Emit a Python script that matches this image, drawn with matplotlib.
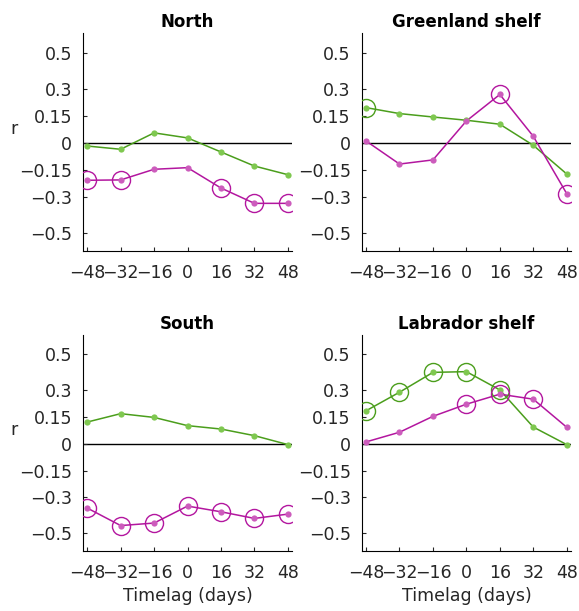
import matplotlib.pyplot as plt

lags = [-48, -32, -16, 0, 16, 32, 48]
titles = ["North", "Greenland shelf", "South", "Labrador shelf"]

green_vals = [
    [-0.017, -0.035, 0.056, 0.028, -0.05, -0.128, -0.176],
    [0.196, 0.163, 0.144, 0.126, 0.104, -0.013, -0.172],
    [0.122, 0.169, 0.148, 0.102, 0.083, 0.046, -0.004],
    [0.185, 0.289, 0.40, 0.404, 0.302, 0.094, -0.004],
]
magenta_vals = [
    [-0.207, -0.205, -0.146, -0.137, -0.25, -0.335, -0.335],
    [0.011, -0.117, -0.094, 0.122, 0.269, 0.037, -0.281],
    [-0.359, -0.457, -0.443, -0.348, -0.380, -0.417, -0.393],
    [0.011, 0.065, 0.154, 0.222, 0.278, 0.25, 0.093],
]
# which lags are circled (significant)
green_sig = [
    [],
    [-48],
    [],
    [-48, -32, -16, 0, 16],
]
magenta_sig = [
    [-48, -32, 16, 32, 48],
    [16, 48],
    [-48, -32, -16, 0, 16, 32, 48],
    [0, 16, 32],
]

yticks = [-0.5, -0.3, -0.15, 0, 0.15, 0.3, 0.5]
ytick_labels = ["\u22120.5", "\u22120.3", "\u22120.15", "0", "0.15", "0.3", "0.5"]
xtick_labels = ["\u221248", "\u221232", "\u221216", "0", "16", "32", "48"]

green_line = "#4b9e1c"
green_dot = "#7fc850"
mag_line = "#b3169f"
mag_dot = "#cc5cbc"

fig = plt.figure(figsize=(5.79, 6.11), dpi=100)
positions = [
    [0.1434, 0.589, 0.361, 0.357],
    [0.625, 0.589, 0.361, 0.357],
    [0.1434, 0.098, 0.361, 0.354],
    [0.625, 0.098, 0.361, 0.354],
]

for i in range(4):
    ax = fig.add_axes(positions[i])
    ax.axhline(0, color="black", lw=1.0, zorder=1)
    for vals, sig, lc, dc in [(green_vals[i], green_sig[i], green_line, green_dot),
                              (magenta_vals[i], magenta_sig[i], mag_line, mag_dot)]:
        ax.plot(lags, vals, color=lc, lw=1.1, zorder=2)
        ax.plot(lags, vals, "o", color=dc, ms=4.5, mec="none", zorder=3)
        sx = [x for x in lags if x in sig]
        sy = [v for x, v in zip(lags, vals) if x in sig]
        ax.plot(sx, sy, "o", mfc="none", mec=lc, ms=13, mew=1.0, zorder=4)
    ax.set_xlim(-50, 50)
    ax.set_ylim(-0.6, 0.61)
    ax.set_xticks(lags)
    ax.set_xticklabels(xtick_labels)
    ax.set_yticks(yticks)
    ax.set_yticklabels(ytick_labels)
    ax.spines["top"].set_visible(False)
    ax.spines["right"].set_visible(False)
    ax.tick_params(direction="in", length=3, labelsize=12.5, colors="#262626",
                   labelcolor="#262626")
    ax.tick_params(axis="x", pad=9)
    ax.tick_params(axis="y", pad=8)
    ax.set_title(titles[i], fontsize=12, fontweight="bold", pad=4)
    if i in (0, 2):
        ax.set_ylabel("r", fontsize=12.5, rotation=0, color="#262626")
        ax.yaxis.set_label_coords(-0.33, 0.52)
    if i in (2, 3):
        ax.set_xlabel("Timelag (days)", fontsize=12.5, color="#262626", labelpad=4)

fig.savefig("out.png", dpi=100)
